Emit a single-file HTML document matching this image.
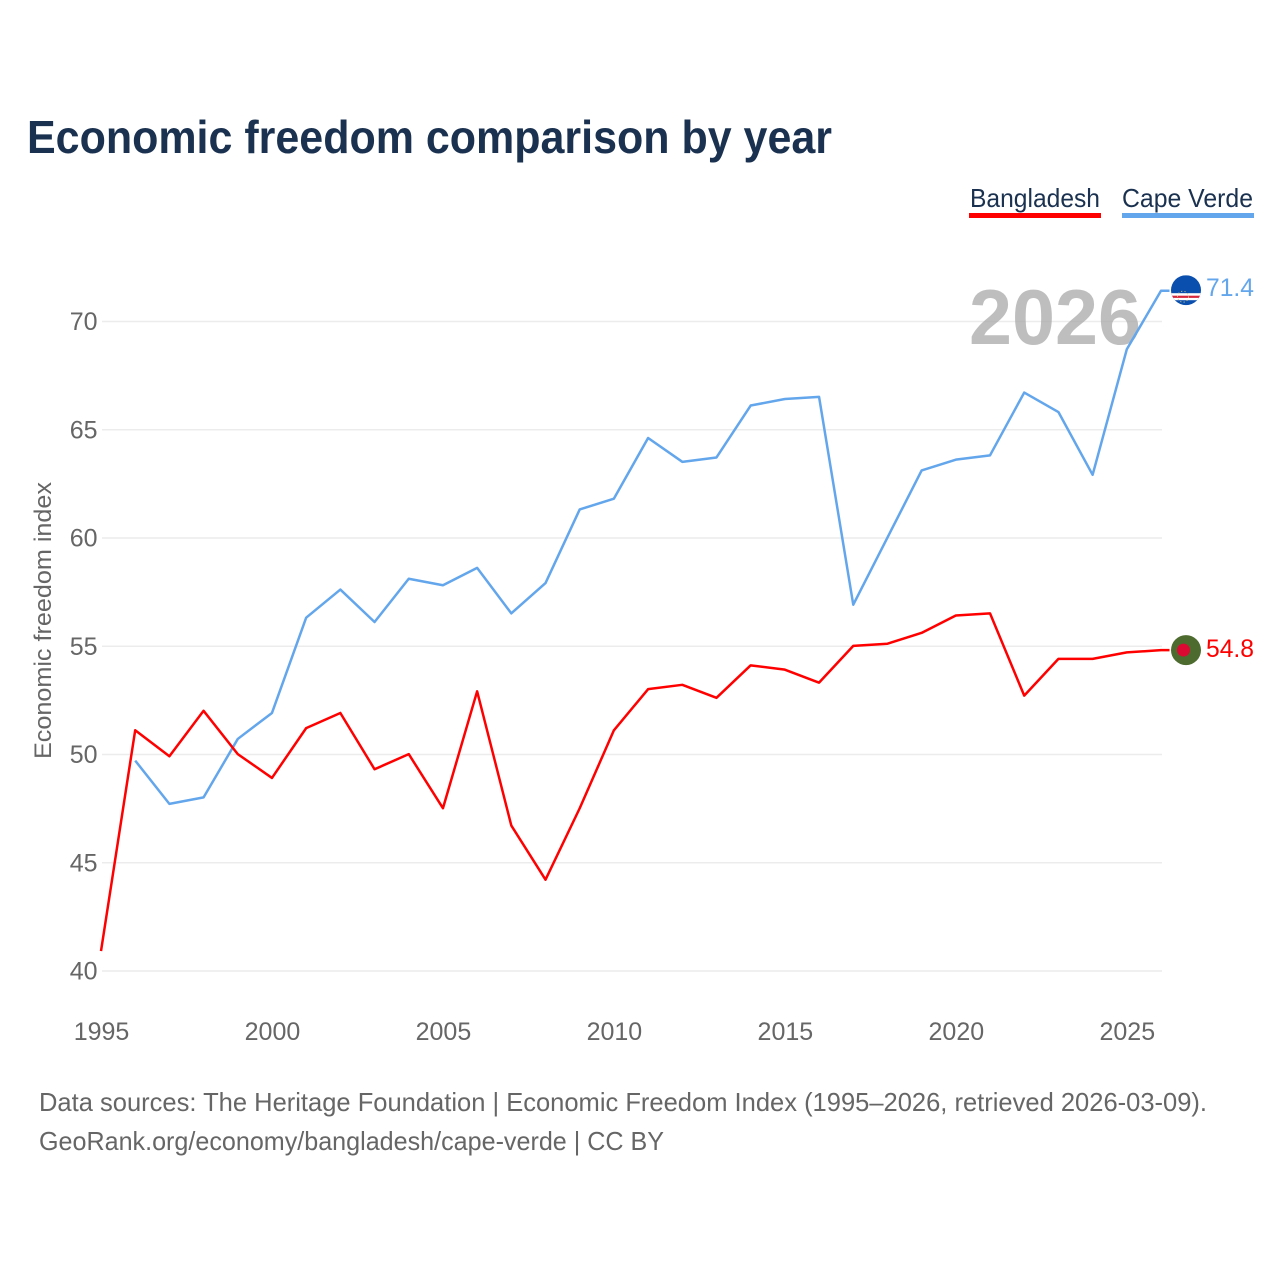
<!DOCTYPE html>
<html lang="en">
<head>
<meta charset="utf-8">
<title>Economic freedom comparison by year</title>
<style>
html,body{margin:0;padding:0;background:#fff;width:1280px;height:1280px;overflow:hidden}
svg{display:block}
text{font-family:"Liberation Sans",sans-serif}
</style>
</head>
<body>
<svg id="chart" width="1280" height="1280" viewBox="0 0 1280 1280" xmlns="http://www.w3.org/2000/svg">
  <defs>
    <clipPath id="flag-clip-cv"><circle cx="0" cy="0" r="15"></circle></clipPath>
  </defs>
  <rect x="0" y="0" width="1280" height="1280" fill="#fff"></rect>
  <text x="27" y="153" font-size="46" font-weight="700" fill="#1a3150" textLength="805" lengthAdjust="spacingAndGlyphs">Economic freedom comparison by year</text>

  <g>
    <g>
      <text x="970" y="207" font-size="26" fill="#1a3150" textLength="130" lengthAdjust="spacingAndGlyphs">Bangladesh</text>
      <rect x="969" y="213" width="132" height="5" fill="#ff0000"></rect>
    </g>
    <g>
      <text x="1122" y="207" font-size="26" fill="#1a3150" textLength="131" lengthAdjust="spacingAndGlyphs">Cape Verde</text>
      <rect x="1122" y="213" width="132" height="5" fill="#63a6ec"></rect>
    </g>
  </g>

  <g id="grid"></g>
  <text x="969" y="344" font-size="78" font-weight="700" fill="#a8a8a8" fill-opacity="0.75" textLength="172" lengthAdjust="spacingAndGlyphs">2026</text>
  <g id="y-ticks"></g>
  <g id="x-ticks"></g>
  <text transform="translate(51,620.5) rotate(-90)" text-anchor="middle" font-size="24" fill="#666666" textLength="277" lengthAdjust="spacingAndGlyphs">Economic freedom index</text>
  <g id="series" transform="translate(-0.5,-0.4)"></g>
  <g id="end-markers"></g>

  <text x="39" y="1111" font-size="26" fill="#666666" textLength="1168" lengthAdjust="spacingAndGlyphs">Data sources: The Heritage Foundation | Economic Freedom Index (1995–2026, retrieved 2026-03-09).</text>
  <text x="39" y="1150" font-size="26" fill="#666666" textLength="625" lengthAdjust="spacingAndGlyphs">GeoRank.org/economy/bangladesh/cape-verde | CC BY</text>
</svg>
<script>
const years = [1995,1996,1997,1998,1999,2000,2001,2002,2003,2004,2005,2006,2007,2008,2009,2010,2011,2012,2013,2014,2015,2016,2017,2018,2019,2020,2021,2022,2023,2024,2025,2026];
const bangladeshValues = [40.9,51.1,49.9,52.0,50.0,48.9,51.2,51.9,49.3,50.0,47.5,52.9,46.7,44.2,47.5,51.1,53.0,53.2,52.6,54.1,53.9,53.3,55.0,55.1,55.6,56.4,56.5,52.7,54.4,54.4,54.7,54.8];
const capeVerdeValues = [null,49.7,47.7,48.0,50.7,51.9,56.3,57.6,56.1,58.1,57.8,58.6,56.5,57.9,61.3,61.8,64.6,63.5,63.7,66.1,66.4,66.5,56.9,60.0,63.1,63.6,63.8,66.7,65.8,62.9,68.7,71.4];
const yTickValues = [40,45,50,55,60,65,70];
const xTickValues = [1995,2000,2005,2010,2015,2020,2025];

const NS = 'http://www.w3.org/2000/svg';
const xScale = function (year) { return 101.5 + (year - 1995) * (1161.5 - 101.5) / 31; };
const yScale = function (value) { return 971 - (value - 40) * (971 - 321.5) / 30; };

function make(tag, attrs, parent, content) {
  const el = document.createElementNS(NS, tag);
  Object.keys(attrs).forEach(function (k) { el.setAttribute(k, attrs[k]); });
  if (content !== undefined) el.textContent = content;
  parent.appendChild(el);
  return el;
}

const gridGroup = document.getElementById('grid');
const yTickGroup = document.getElementById('y-ticks');
yTickValues.forEach(function (v) {
  const line = make('line', { x1: 102, x2: 1162, y1: yScale(v), y2: yScale(v), stroke: '#ececec', 'stroke-width': 1.5 }, gridGroup);
  
  
  const label = make('text', { x: 97.5, y: yScale(v) + 8.5, 'text-anchor': 'end', 'font-size': 25, fill: '#666666' }, yTickGroup, String(v));
  
  
});

const xTickGroup = document.getElementById('x-ticks');
xTickValues.forEach(function (year) {
  const label = make('text', { x: xScale(year), y: 1040, 'text-anchor': 'middle', 'font-size': 25, fill: '#666666' }, xTickGroup, String(year));
  
  
});

function linePath(values) {
  let d = '';
  values.forEach(function (v, i) {
    if (v === null) return;
    d += (d ? 'L' : 'M') + xScale(years[i]).toFixed(2) + ' ' + yScale(v).toFixed(2);
  });
  const last = values[values.length - 1];
  d += 'L1170 ' + yScale(last).toFixed(2);
  return d;
}

const seriesGroup = document.getElementById('series');
const capeLine = make('path', { d: linePath(capeVerdeValues), fill: 'none', stroke: '#63a6ec', 'stroke-width': 2.5, 'stroke-linejoin': 'round' }, seriesGroup);


const bangLine = make('path', { d: linePath(bangladeshValues), fill: 'none', stroke: '#ff0000', 'stroke-width': 2.5, 'stroke-linejoin': 'round' }, seriesGroup);



const markers = document.getElementById('end-markers');
const capeLast = capeVerdeValues[capeVerdeValues.length - 1];
const bangLast = bangladeshValues[bangladeshValues.length - 1];

const capeFlag = make('g', { transform: 'translate(1186,' + (yScale(capeLast) - 1).toFixed(2) + ')', 'clip-path': 'url(#flag-clip-cv)' }, markers);


make('rect', { x: -15, y: -15, width: 30, height: 30, fill: '#0a4fae' }, capeFlag);
make('rect', { x: -15, y: 3, width: 30, height: 7, fill: '#ffffff' }, capeFlag);
make('rect', { x: -15, y: 5.5, width: 30, height: 2.2, fill: '#d8263c' }, capeFlag);
make('circle', { cx: -3, cy: 6.5, r: 5.5, fill: 'none', stroke: '#d9c77a', 'stroke-width': 0.9, 'stroke-dasharray': '1.2 2.2' }, capeFlag);

const bangFlag = make('g', { transform: 'translate(1186,' + (yScale(bangLast) - 0.5).toFixed(2) + ')' }, markers);


make('circle', { cx: 0, cy: 0, r: 15, fill: '#4d6b2e' }, bangFlag);
make('circle', { cx: -2.5, cy: 0, r: 6.5, fill: '#dc0a32' }, bangFlag);

const capeValue = make('text', { x: 1206, y: yScale(capeLast) + 5, 'font-size': 25, fill: '#63a6ec', textLength: 48, lengthAdjust: 'spacingAndGlyphs' }, markers, capeLast.toFixed(1));


const bangValue = make('text', { x: 1206, y: yScale(bangLast) + 6.5, 'font-size': 25, fill: '#ff0000', textLength: 48, lengthAdjust: 'spacingAndGlyphs' }, markers, bangLast.toFixed(1));


</script>
</body>
</html>
